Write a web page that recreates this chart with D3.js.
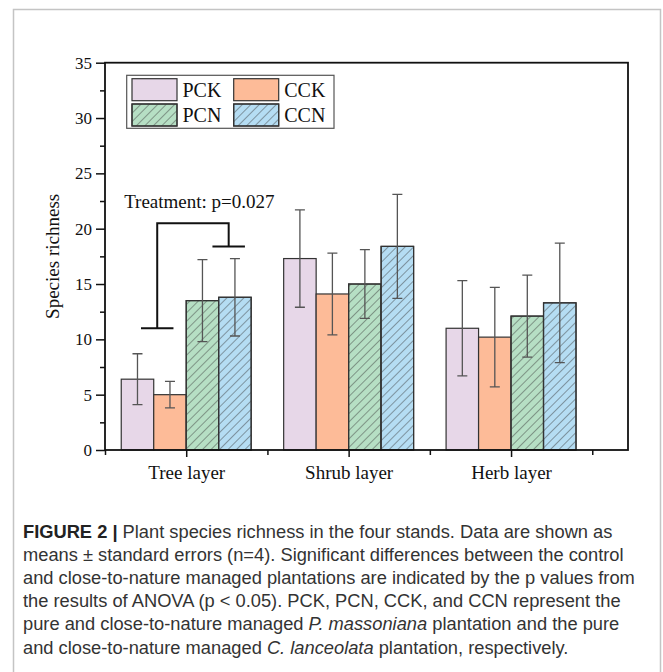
<!DOCTYPE html>
<html>
<head>
<meta charset="utf-8">
<script src="https://cdn.jsdelivr.net/npm/d3@7"></script>
<style>
    body { margin: 0; background: #fff; }
    svg { display: block; }
    .tick-label, .axis-label, .legend-text, .note { font-family: "Liberation Serif", "Times New Roman", serif; fill: #111; }
    .caption { font-family: "Liberation Sans", Arial, sans-serif; fill: #333; }
</style>
</head>
<body>
<div class="wrapper"></div>
<script>
const layers = ["Tree layer", "Shrub layer", "Herb layer"]
const stands = ["PCK", "CCK", "PCN", "CCN"]

const pckMeans = [6.4, 17.3, 11.0]
const cckMeans = [5.0, 14.1, 10.2]
const pcnMeans = [13.5, 15.0, 12.1]
const ccnMeans = [13.8, 18.4, 13.3]

const pckErrors = [2.3, 4.4, 4.3]
const cckErrors = [1.2, 3.7, 4.5]
const pcnErrors = [3.7, 3.1, 3.7]
const ccnErrors = [3.5, 4.7, 5.4]

const yTicks = [0, 5, 10, 15, 20, 25, 30, 35]
const yMinorTicks = [2.5, 7.5, 12.5, 17.5, 22.5, 27.5, 32.5]

const noteText = "Treatment: p=0.027"

const captionLines = [
    "Plant species richness in the four stands. Data are shown as",
    "means \u00b1 standard errors (n=4). Significant differences between the control",
    "and close-to-nature managed plantations are indicated by the p values from",
    "the results of ANOVA (p < 0.05). PCK, PCN, CCK, and CCN represent the",
    "pure and close-to-nature managed |P. massoniana| plantation and the pure",
    "and close-to-nature managed |C. lanceolata| plantation, respectively.",
]

function drawChart() {
    const means = [pckMeans, cckMeans, pcnMeans, ccnMeans]
    const errors = [pckErrors, cckErrors, pcnErrors, ccnErrors]
    const fills = ["#e7d7e8", "#fdbb98", "#b6dfc4", "#b5ddf3"]
    const hatched = [false, false, true, true]

    const dataset = []
    layers.forEach((layer, i) => {
        stands.forEach((stand, j) => {
            dataset.push({layer: i + 1, stand: j, value: means[j][i], se: errors[j][i]})
        })
    })

    let dimensions = {
        width: 663,
        height: 672,
        margin: {top: 62.7, right: 35, bottom: 222, left: 105},
    }
    dimensions.boundedWidth = dimensions.width - dimensions.margin.left - dimensions.margin.right
    dimensions.boundedHeight = dimensions.height - dimensions.margin.top - dimensions.margin.bottom

    const wrapper = d3.select(".wrapper")
        .append("svg")
        .attr("width", dimensions.width)
        .attr("height", dimensions.height)

    // page frame
    wrapper.append("path")
        .attr("d", "M13.5,672 V9.5 H660.5 V672")
        .attr("fill", "none")
        .attr("stroke", "#c4c4c4")
        .attr("stroke-width", 1.5)

    const defs = wrapper.append("defs")
    const hatch = defs.append("pattern")
        .attr("id", "hatch")
        .attr("patternUnits", "userSpaceOnUse")
        .attr("width", 6)
        .attr("height", 6)
        .attr("patternTransform", "rotate(45)")
    hatch.append("line")
        .attr("x1", 0).attr("y1", 0)
        .attr("x2", 0).attr("y2", 6)
        .attr("stroke", "#3a3a3a")
        .attr("stroke-width", 0.9)

    const bounds = wrapper.append("g")
        .attr("transform", `translate(${dimensions.margin.left}, ${dimensions.margin.top})`)

    const xScale = d3.scaleLinear()
        .domain([0.5, 3.72])
        .range([0, dimensions.boundedWidth])

    const yScale = d3.scaleLinear()
        .domain([0, 35])
        .range([dimensions.boundedHeight, 0])

    const barWidth = 0.2
    const barX = d => d.layer - 0.4 + d.stand * barWidth

    // bars
    const bars = bounds.selectAll(".bar")
        .data(dataset)
        .enter().append("g")
        .attr("class", "bar")

    bars.append("rect")
        .attr("x", d => xScale(barX(d)))
        .attr("y", d => yScale(d.value))
        .attr("width", xScale(barWidth) - xScale(0))
        .attr("height", d => yScale(0) - yScale(d.value))
        .attr("fill", d => fills[d.stand])
        .attr("stroke", "#333")
        .attr("stroke-width", 1.2)

    bars.filter(d => hatched[d.stand]).append("rect")
        .attr("x", d => xScale(barX(d)))
        .attr("y", d => yScale(d.value))
        .attr("width", xScale(barWidth) - xScale(0))
        .attr("height", d => yScale(0) - yScale(d.value))
        .attr("fill", "url(#hatch)")
        .attr("stroke", "#333")
        .attr("stroke-width", 1.2)

    // error bars
    const capHalf = 5
    const errorBars = bounds.selectAll(".error")
        .data(dataset)
        .enter().append("path")
        .attr("class", "error")
        .attr("d", d => {
            const cx = xScale(barX(d) + barWidth / 2)
            const top = yScale(d.value + d.se)
            const bottom = yScale(d.value - d.se)
            return `M${cx},${top} V${bottom} M${cx - capHalf},${top} H${cx + capHalf} M${cx - capHalf},${bottom} H${cx + capHalf}`
        })
        .attr("fill", "none")
        .attr("stroke", "#555")
        .attr("stroke-width", 1.3)

    // axes
    const yAxis = d3.axisLeft(yScale)
        .tickValues(yTicks)
        .tickSize(9)
        .tickPadding(4)
    const yAxisGroup = bounds.append("g").call(yAxis)
    yAxisGroup.select(".domain").remove()
    yAxisGroup.selectAll("text")
        .attr("class", "tick-label")
        .style("font-size", "17px")
    yAxisGroup.selectAll("line").attr("stroke", "#111").attr("stroke-width", 1.5)

    const yMinor = d3.axisLeft(yScale)
        .tickValues(yMinorTicks)
        .tickSize(5)
        .tickFormat("")
    const yMinorGroup = bounds.append("g").call(yMinor)
    yMinorGroup.select(".domain").remove()
    yMinorGroup.selectAll("line").attr("stroke", "#111").attr("stroke-width", 1.5)

    const xAxis = d3.axisBottom(xScale)
        .tickValues([1, 2, 3])
        .tickSize(7)
        .tickPadding(9)
        .tickFormat(d => layers[d - 1])
    const xAxisGroup = bounds.append("g")
        .attr("transform", `translate(0, ${dimensions.boundedHeight})`)
        .call(xAxis)
    xAxisGroup.select(".domain").remove()
    xAxisGroup.selectAll("text")
        .attr("class", "tick-label")
        .style("font-size", "19px")
    xAxisGroup.selectAll("line").attr("stroke", "#111").attr("stroke-width", 1.5)

    const xMinor = d3.axisBottom(xScale)
        .tickValues([0.5, 1.5, 2.5, 3.5])
        .tickSize(5)
        .tickFormat("")
    const xMinorGroup = bounds.append("g")
        .attr("transform", `translate(0, ${dimensions.boundedHeight})`)
        .call(xMinor)
    xMinorGroup.select(".domain").remove()
    xMinorGroup.selectAll("line").attr("stroke", "#111").attr("stroke-width", 1.5)

    bounds.append("rect")
        .attr("width", dimensions.boundedWidth)
        .attr("height", dimensions.boundedHeight)
        .attr("fill", "none")
        .attr("stroke", "#111")
        .attr("stroke-width", 1.8)

    bounds.append("text")
        .attr("class", "axis-label")
        .attr("transform", `translate(-50, ${yScale(17.5)}) rotate(-90)`)
        .attr("text-anchor", "middle")
        .attr("dominant-baseline", "middle")
        .style("font-size", "19px")
        .text("Species richness")

    // treatment bracket
    const bracketLeft = 0.8215
    const bracketRight = 1.2615
    const bracketHalf = 0.1
    const bracket = `M${xScale(bracketLeft - bracketHalf)},${yScale(11)} H${xScale(bracketLeft + bracketHalf)}`
        + ` M${xScale(bracketLeft)},${yScale(11)} V${yScale(20.5)} H${xScale(bracketRight)} V${yScale(18.4)}`
        + ` M${xScale(bracketRight - bracketHalf)},${yScale(18.4)} H${xScale(bracketRight + bracketHalf)}`
    bounds.append("path")
        .attr("d", bracket)
        .attr("fill", "none")
        .attr("stroke", "#111")
        .attr("stroke-width", 2)

    bounds.append("text")
        .attr("class", "note")
        .attr("x", xScale(0.618))
        .attr("y", yScale(21.9))
        .style("font-size", "19px")
        .text(noteText)

    // legend
    const legendGroup = bounds.append("g")
        .attr("transform", `translate(${126.7 - dimensions.margin.left}, ${75.3 - dimensions.margin.top})`)
    legendGroup.append("rect")
        .attr("width", 207.3)
        .attr("height", 53)
        .attr("fill", "#fff")
        .attr("stroke", "#555")
        .attr("stroke-width", 1.2)

    const legendItems = legendGroup.selectAll(".legend-item")
        .data(stands)
        .enter().append("g")
        .attr("class", "legend-item")
        .attr("transform", (d, i) => `translate(${5.3 + (i % 2) * 101.7}, ${3.4 + Math.floor(i / 2) * 25.3})`)

    legendItems.append("rect")
        .attr("width", 45)
        .attr("height", 22)
        .attr("fill", (d, i) => fills[i])
        .attr("stroke", "#333")
        .attr("stroke-width", 1.2)
    legendItems.filter((d, i) => hatched[i]).append("rect")
        .attr("width", 45)
        .attr("height", 22)
        .attr("fill", "url(#hatch)")
        .attr("stroke", "#333")
        .attr("stroke-width", 1.2)
    legendItems.append("text")
        .attr("class", "legend-text")
        .attr("x", 50.5)
        .attr("y", 18)
        .style("font-size", "20px")
        .text(d => d)

    // caption
    const caption = wrapper.append("text")
        .attr("class", "caption")
        .attr("x", 23)
        .attr("y", 538)
        .style("font-size", "18.3px")

    captionLines.forEach((line, i) => {
        const row = caption.append("tspan")
            .attr("x", 23)
            .attr("y", 538 + i * 23.1)
        if (i === 0) {
            row.append("tspan")
                .attr("font-weight", "bold")
                .attr("fill", "#222")
                .text("FIGURE 2 | ")
        }
        line.split("|").forEach((part, k) => {
            row.append("tspan")
                .attr("font-style", k === 1 ? "italic" : "normal")
                .text(part)
        })
    })
}

drawChart()
</script>
</body>
</html>
